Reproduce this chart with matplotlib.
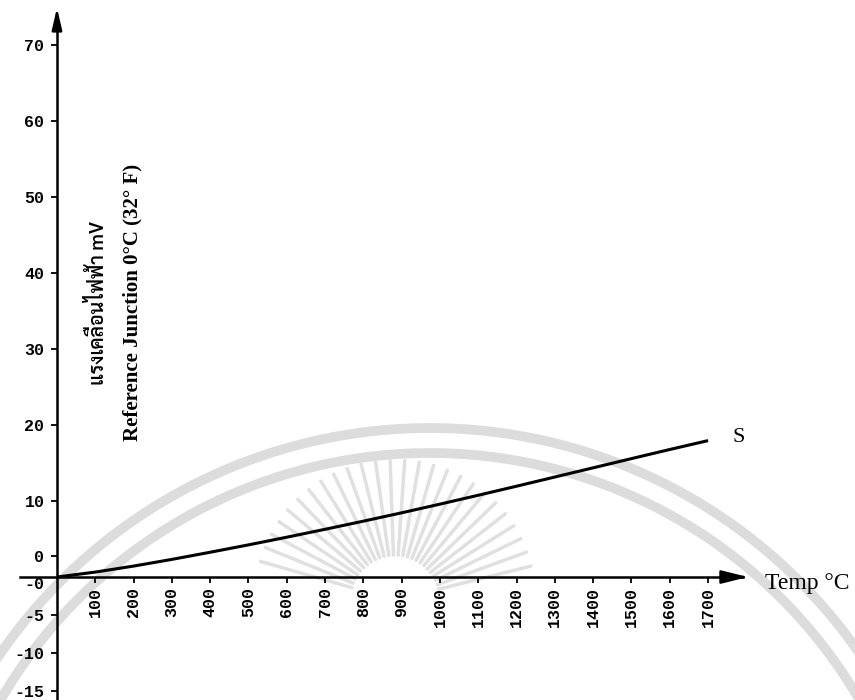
import matplotlib
matplotlib.use('Agg')
import numpy as np
import matplotlib.pyplot as plt

# EMF of a type S thermocouple, reference junction at 0 C
temp_c = [0, 100, 200, 300, 400, 500, 600, 700, 800, 900,
          1000, 1100, 1200, 1300, 1400, 1500, 1600, 1700]
emf_mv = [0.0, 0.65, 1.44, 2.32, 3.26, 4.23, 5.24, 6.28, 7.35, 8.45,
          9.59, 10.76, 11.95, 13.16, 14.37, 15.58, 16.78, 17.95]

xtick_vals = [100, 200, 300, 400, 500, 600, 700, 800, 900, 1000,
              1100, 1200, 1300, 1400, 1500, 1600, 1700]
ytick_labels = ['70', '60', '50', '40', '30', '20', '10', '0', '-0', '-5', '-10', '-15']
ytick_pos = [70, 60, 50, 40, 30, 20, 10, 2.8, -0.8, -5, -10, -15]

W, H = 855, 700
fig = plt.figure(figsize=(W / 100, H / 100), dpi=100)

# faint seal behind the chart
bg = fig.add_axes([0, 0, 1, 1], zorder=0)
bg.set_xlim(0, W)
bg.set_ylim(H, 0)
bg.axis('off')
t = np.linspace(0, 2 * np.pi, 600)
for r in (522, 497):
    bg.plot(430 + r * np.cos(t), 950 + r * np.sin(t), color='#dcdcdc', lw=7)
for ang in np.arange(14, 167, 6):
    a = np.radians(ang)
    bg.plot([395 + 45 * np.cos(a), 395 + 140 * np.cos(a)],
            [600 - 45 * np.sin(a), 600 - 140 * np.sin(a)],
            color='#e0e0e0', lw=2.5, solid_capstyle='round')

ax = fig.add_axes([0, 0, 1, 1], zorder=1)
ax.patch.set_alpha(0)
ax.set_xlim(-148.8, 2083.6)
ax.set_ylim(-16.18, 75.92)

for side in ('top', 'right'):
    ax.spines[side].set_visible(False)
ax.spines['left'].set_position(('data', 0))
ax.spines['bottom'].set_position(('data', 0))
ax.spines['left'].set_bounds(-16.18, 73)
ax.spines['bottom'].set_bounds(-97, 1790)
ax.spines['left'].set_linewidth(1.8)
ax.spines['bottom'].set_linewidth(1.8)

ax.annotate('', xy=(1804, 0), xytext=(1785, 0),
            arrowprops=dict(arrowstyle='-|>,head_length=1.6,head_width=0.4',
                            color='k', lw=1.8, shrinkA=0, shrinkB=0, mutation_scale=10))
ax.annotate('', xy=(0, 74.9), xytext=(0, 72),
            arrowprops=dict(arrowstyle='-|>,head_length=1.3,head_width=0.3',
                            color='k', lw=1.8, shrinkA=0, shrinkB=0, mutation_scale=10))

tick_font = dict(family='Liberation Mono', weight='bold', size=12)
ax.set_xticks(xtick_vals)
ax.set_xticklabels([str(v) for v in xtick_vals], rotation=90, **tick_font)
ax.set_yticks(ytick_pos)
ax.set_yticklabels(ytick_labels, **tick_font)
ax.tick_params(axis='x', direction='out', length=4, width=1.3, pad=3)
ax.tick_params(axis='y', direction='out', length=4, width=1.3, pad=5)
ax.yaxis.get_major_ticks()[8].tick1line.set_visible(False)

ax.plot(temp_c, emf_mv, color='k', lw=2.2, solid_capstyle='butt')

serif = 'Liberation Serif'
ax.text(1765, 18.3, 'S', fontsize=16, family=serif, ha='left', va='center')
ax.text(1848, -0.8, 'Temp °C', fontsize=17, family=serif, ha='left', va='center')

fig.text(97 / W, 1 - 303 / H, 'แรงเคลื่อนไฟฟ้า mV', rotation=90,
         family=['Sarabun', 'DejaVu Sans'], weight='semibold', fontsize=14,
         ha='center', va='center')
fig.text(132 / W, 1 - 302 / H, 'Reference Junction 0°C (32° F)', rotation=90,
         family=serif, weight='bold', fontsize=15, ha='center', va='center')

plt.savefig('out.png', dpi=100)
